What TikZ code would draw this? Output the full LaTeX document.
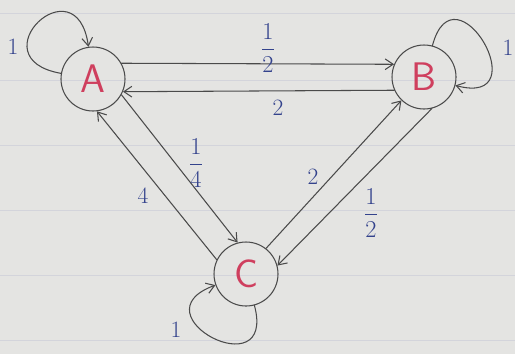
\documentclass[tikz,border=0pt]{standalone}
\usepackage{amsmath}
\usetikzlibrary{arrows.meta}
\definecolor{paper}{HTML}{E4E4E2}
\definecolor{rule}{HTML}{D3D4DB}
\definecolor{ink}{HTML}{4A4A4A}
\definecolor{redink}{HTML}{CF3F5E}
\definecolor{blueink}{HTML}{33428C}
\begin{document}
\begin{tikzpicture}[x=0.03cm,y=-0.03cm,line cap=round,line join=round,
  state/.style={circle,draw=ink,line width=0.9pt,minimum size=1.92cm,inner sep=0pt,
    text=redink,font=\sffamily\fontsize{34}{36}\selectfont},
  edge/.style={draw=ink,line width=0.9pt,-{Straight Barb[length=2.4mm,width=3.2mm]}},
  selfloop/.style={edge,distance=2.6cm},
  weight/.style={text=blueink,font=\fontsize{20}{22}\selectfont}]
  \fill[paper] (0,0) rectangle (515,354);
  \useasboundingbox (0,0) rectangle (515,354);
  % ruled paper
  \foreach \y in {13,80,145,210,275,340}
    \draw[rule,line width=0.6pt] (0,\y) -- (515,\y);
  % states
  \node[state] (A) at (93,79) {A};
  \node[state] (B) at (424,77) {B};
  \node[state] (C) at (246,274) {C};
  % transitions
  \draw[edge] (A.29) -- (B.157);
  \draw[edge] (B.204) -- (A.-23);
  \draw[edge] (A.-29) -- (C.105);
  \draw[edge] (C.154) -- (A.-83);
  \draw[edge] (C.52) -- (B.226);
  \draw[edge] (B.-76) -- (C.15);
  \draw[selfloop] (A) to[out=170,in=98] (A);
  \draw[selfloop] (B) to[out=75,in=-15] (B);
  \draw[selfloop] (C) to[out=-75,in=200] (C);
  % weights
  \node[weight] (wAA) at (13,47) {1};
  \node[weight] (wAB) at (268,48) {$\dfrac{1}{2}$};
  \node[weight] (wBA) at (278,108) {2};
  \node[weight] (wAC) at (196,163) {$\dfrac{1}{4}$};
  \node[weight] (wCA) at (143,196) {4};
  \node[weight] (wCB) at (313,177) {2};
  \node[weight] (wBC) at (371,213) {$\dfrac{1}{2}$};
  \node[weight] (wBB) at (508,48) {1};
  \node[weight] (wCC) at (176,330) {1};
\end{tikzpicture}
\end{document}
